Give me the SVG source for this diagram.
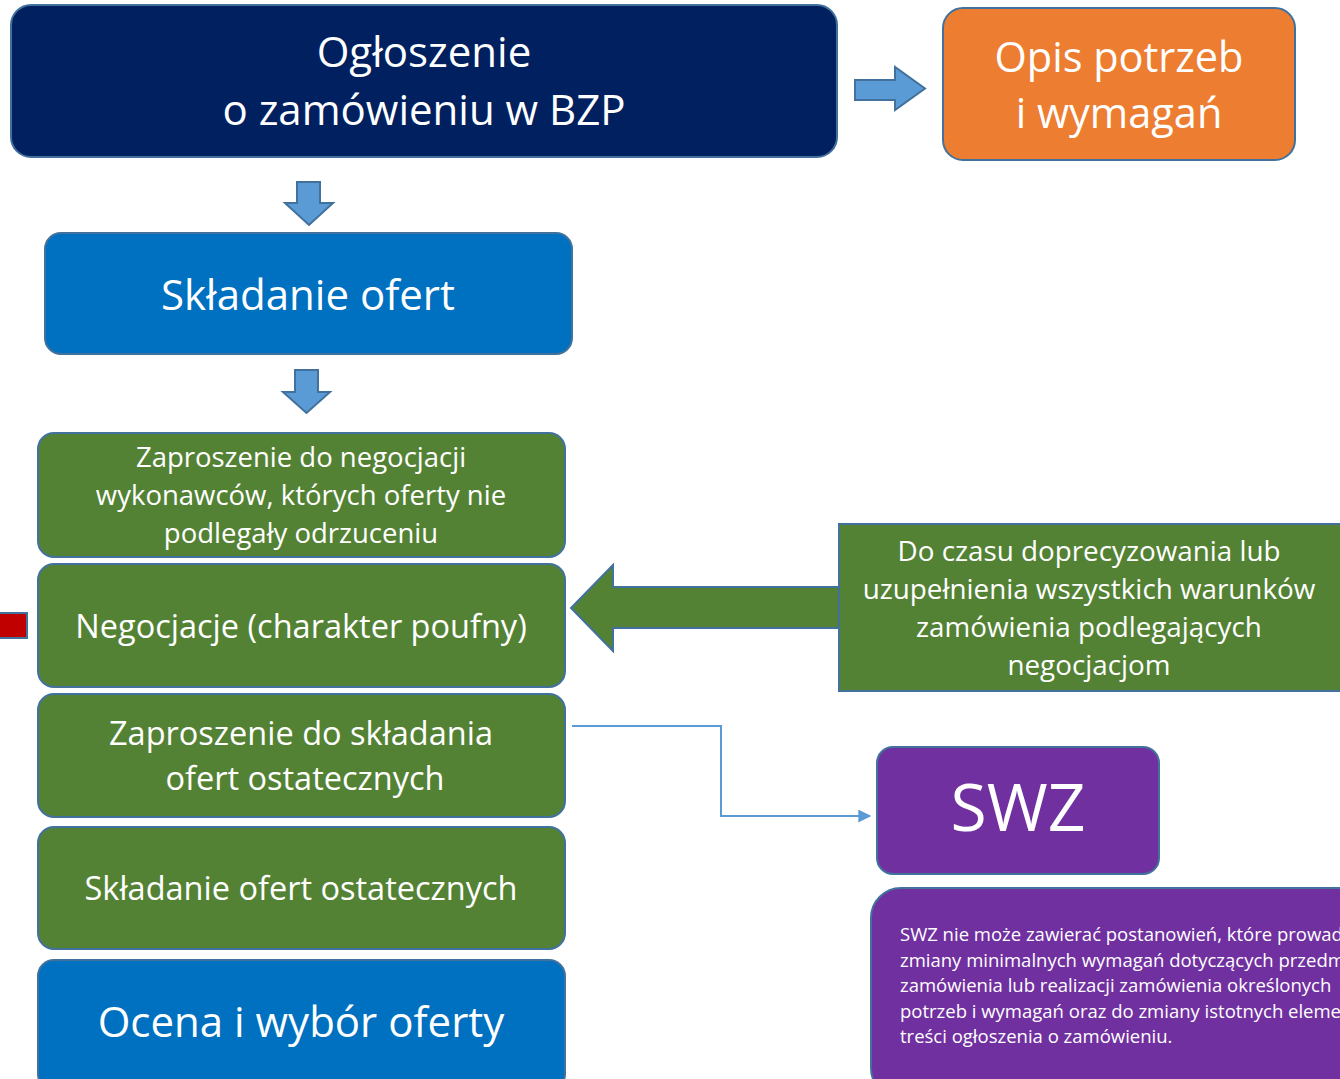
<svg xmlns="http://www.w3.org/2000/svg" width="1340" height="1079" viewBox="0 0 1340 1079">
<style>
.box{stroke:#41719C;stroke-width:2}
.arr{fill:#5B9BD5;stroke:#41719C;stroke-width:2}
.t{font-family:"Open Sans","Noto Sans","Liberation Sans",sans-serif;fill:#fff;text-anchor:middle}
.s{font-family:"Open Sans","Noto Sans","Liberation Sans",sans-serif;fill:#fff;font-size:18.5px}
</style>
<defs>
<marker id="ah" viewBox="0 0 10 10" refX="9" refY="5" markerWidth="14" markerHeight="13" markerUnits="userSpaceOnUse" orient="auto">
<path d="M0,0 L10,5 L0,10 z" fill="#5B9BD5"/>
</marker>
</defs>
<rect width="1340" height="1079" fill="#fff"/>

<g id="connectors">
<path class="arr" d="M855,80 L895,80 L895,67 L925,88.5 L895,110 L895,100 L855,100 z"/>
<path class="arr" d="M297,182 L320,182 L320,203 L333,203 L309,225 L285,203 L297,203 z"/>
<path class="arr" d="M295,370 L318,370 L318,392 L330,392 L306.5,413 L283,392 L295,392 z"/>
<path d="M1345,587 L613,587 L613,565 L571,608 L613,651 L613,628 L1345,628 z" fill="#548235" stroke="#41719C" stroke-width="2"/>
<path d="M572,726 L721,726 L721,816 L870,816" fill="none" stroke="#5B9BD5" stroke-width="2" marker-end="url(#ah)"/>
</g>

<g id="n-ogloszenie">
<rect class="box" x="11" y="5" width="826" height="152" rx="20" fill="#002060"/>
<text class="t" x="424" y="67" font-size="42">Ogłoszenie</text>
<text class="t" x="424" y="125" font-size="42">o zamówieniu w BZP</text>
</g>

<g id="n-opis">
<rect class="box" x="943" y="8" width="352" height="152" rx="20" fill="#ED7D31"/>
<text class="t" x="1119" y="72" font-size="41.5">Opis potrzeb</text>
<text class="t" x="1119" y="128" font-size="41.5">i wymagań</text>
</g>

<g id="n-skladanie">
<rect class="box" x="45" y="233" width="527" height="121" rx="16" fill="#0070C0"/>
<text class="t" x="308" y="310" font-size="42">Składanie ofert</text>
</g>

<g id="n-zaproszenie">
<rect class="box" x="38" y="433" width="527" height="124" rx="16" fill="#548235"/>
<text class="t" x="301" y="467" font-size="27.5">Zaproszenie do negocjacji</text>
<text class="t" x="301" y="505" font-size="27.5">wykonawców, których oferty nie</text>
<text class="t" x="301" y="543" font-size="27.5">podlegały odrzuceniu</text>
</g>

<g id="n-red">
<rect x="-2" y="613" width="29" height="25" fill="#C00000" stroke="#41719C" stroke-width="2"/>
</g>

<g id="n-negocjacje">
<rect class="box" x="38" y="564" width="527" height="123" rx="16" fill="#548235"/>
<text class="t" x="301" y="638" font-size="32.5">Negocjacje (charakter poufny)</text>
</g>

<g id="n-zaproszenie-ost">
<rect class="box" x="38" y="694" width="527" height="123" rx="16" fill="#548235"/>
<text class="t" x="301" y="745" font-size="32.5">Zaproszenie do składania</text>
<text class="t" x="305" y="790" font-size="32.5">ofert ostatecznych</text>
</g>

<g id="n-skladanie-ost">
<rect class="box" x="38" y="827" width="527" height="122" rx="16" fill="#548235"/>
<text class="t" x="301" y="900" font-size="32.5">Składanie ofert ostatecznych</text>
</g>

<g id="n-ocena">
<rect class="box" x="38" y="960" width="527" height="130" rx="16" fill="#0070C0"/>
<text class="t" x="301" y="1037" font-size="42">Ocena i wybór oferty</text>
</g>

<g id="n-docasu">
<rect x="839" y="524" width="510" height="167" fill="#548235" stroke="#41719C" stroke-width="2"/>
<text class="t" x="1089" y="561" font-size="27.8">Do czasu doprecyzowania lub</text>
<text class="t" x="1089" y="599" font-size="27.8">uzupełnienia wszystkich warunków</text>
<text class="t" x="1089" y="637" font-size="27.8">zamówienia podlegających</text>
<text class="t" x="1089" y="675" font-size="27.8">negocjacjom</text>
</g>

<g id="n-swz">
<rect class="box" x="877" y="747" width="282" height="127" rx="16" fill="#7030A0"/>
<text class="t" x="1018" y="831" font-size="66">SWZ</text>
</g>

<g id="n-swz-note">
<rect class="box" x="871" y="888" width="500" height="210" rx="30" fill="#7030A0"/>
<text class="s" x="900" y="941">SWZ nie może zawierać postanowień, które prowad</text>
<text class="s" x="900" y="967">zmiany minimalnych wymagań dotyczących przedm</text>
<text class="s" x="900" y="992">zamówienia lub realizacji zamówienia określonych</text>
<text class="s" x="900" y="1018">potrzeb i wymagań oraz do zmiany istotnych eleme</text>
<text class="s" x="900" y="1043">treści ogłoszenia o zamówieniu.</text>
</g>
</svg>
